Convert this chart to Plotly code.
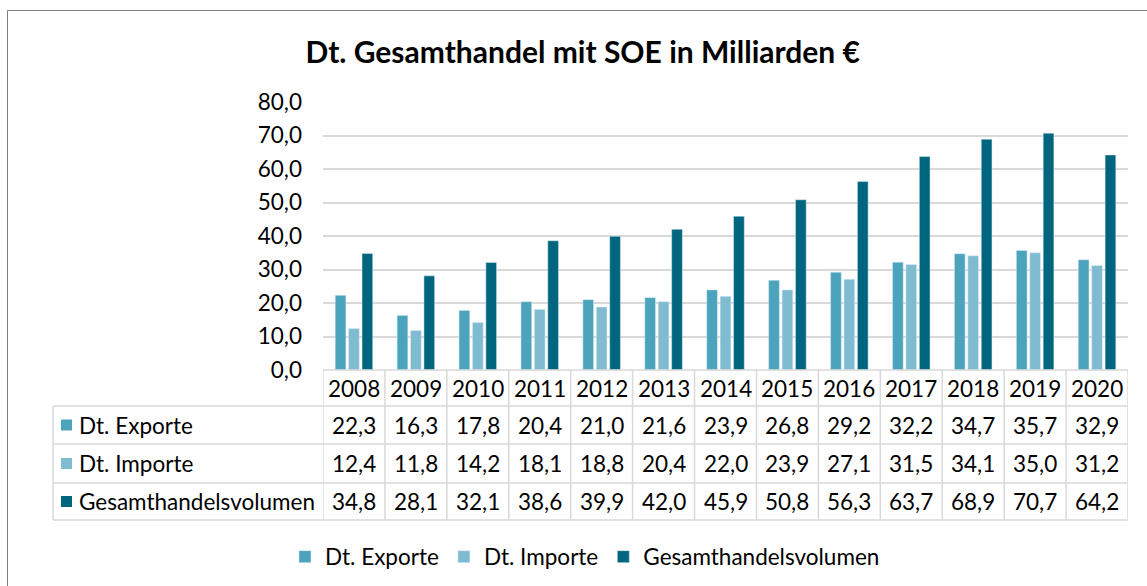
import plotly.graph_objects as go

years = ["2008", "2009", "2010", "2011", "2012", "2013", "2014",
         "2015", "2016", "2017", "2018", "2019", "2020"]
exporte = [22.3, 16.3, 17.8, 20.4, 21.0, 21.6, 23.9, 26.8, 29.2, 32.2, 34.7, 35.7, 32.9]
importe = [12.4, 11.8, 14.2, 18.1, 18.8, 20.4, 22.0, 23.9, 27.1, 31.5, 34.1, 35.0, 31.2]
gesamt = [34.8, 28.1, 32.1, 38.6, 39.9, 42.0, 45.9, 50.8, 56.3, 63.7, 68.9, 70.7, 64.2]

series_names = ["Dt. Exporte", "Dt. Importe", "Gesamthandelsvolumen"]
series_values = [exporte, importe, gesamt]
colors = ["#4BA3BC", "#7FBCD1", "#00667F"]

W, H = 1147, 586
FONT = "Lato"
FS = 22.5
GRID = "#D9D9D9"


def py(px):
    return 1 - px / H


def pxx(px):
    return px / W


x_left, x_right = 323, 1128
y_zero, y_top = 370, 102

fig = go.Figure()
for name, vals, col in zip(series_names, series_values, colors):
    fig.add_trace(go.Bar(x=years, y=vals, name=name, marker_color=col,
                         hoverinfo="x+y+name"))

shapes = []
annotations = []

row_edges = [y_zero, 406, 444, 483, 520]
label_left = 53
n = len(years)

for i in range(n + 1):
    shapes.append(dict(type="line", xref="x", yref="paper",
                       x0=i - 0.5, x1=i - 0.5, y0=py(y_zero), y1=py(row_edges[-1]),
                       line=dict(color=GRID, width=1.5)))
shapes.append(dict(type="line", xref="paper", yref="paper",
                   x0=pxx(label_left), x1=pxx(label_left),
                   y0=py(row_edges[1]), y1=py(row_edges[-1]),
                   line=dict(color=GRID, width=1.5)))
for k, ye in enumerate(row_edges):
    shapes.append(dict(type="line", xref="x", yref="paper",
                       x0=-0.5, x1=n - 0.5, y0=py(ye), y1=py(ye),
                       line=dict(color=GRID, width=1.5)))
    if k >= 1:
        shapes.append(dict(type="line", xref="paper", yref="paper",
                           x0=pxx(label_left), x1=pxx(x_left), y0=py(ye), y1=py(ye),
                           line=dict(color=GRID, width=1.5)))

txtfont = dict(family=FONT, size=FS, color="#000000")

hc = (row_edges[0] + row_edges[1]) / 2
for i, yr in enumerate(years):
    annotations.append(dict(x=i, xref="x", y=py(hc), yref="paper", text=yr,
                            showarrow=False, font=txtfont,
                            xanchor="center", yanchor="middle"))

for r, (name, vals, col) in enumerate(zip(series_names, series_values, colors)):
    rc = (row_edges[r + 1] + row_edges[r + 2]) / 2
    for i, v in enumerate(vals):
        annotations.append(dict(x=i, xref="x", y=py(rc), yref="paper",
                                text=f"{v:.1f}".replace(".", ","),
                                showarrow=False, font=txtfont,
                                xanchor="center", yanchor="middle"))
    shapes.append(dict(type="rect", xref="paper", yref="paper",
                       x0=pxx(61), x1=pxx(72), y0=py(rc - 5.5), y1=py(rc + 5.5),
                       fillcolor=col, line=dict(width=0)))
    annotations.append(dict(x=pxx(77), xref="paper", y=py(rc), yref="paper", text=name,
                            showarrow=False, font=txtfont,
                            xanchor="left", yanchor="middle"))

shapes.append(dict(type="rect", xref="paper", yref="paper",
                   x0=pxx(7.5), x1=1.05, y0=-0.05, y1=py(10.5),
                   line=dict(color="#7F7F7F", width=1), fillcolor="rgba(0,0,0,0)"))

fig.update_layout(
    width=W, height=H,
    margin=dict(l=0, r=0, t=0, b=0, pad=0, autoexpand=False),
    paper_bgcolor="white", plot_bgcolor="white",
    separators=",.",
    barmode="group", bargap=0.35, bargroupgap=0.2,
    font=txtfont,
    title=dict(text="<b>Dt. Gesamthandel mit SOE in Milliarden €</b>",
               x=0.508, xanchor="center", y=py(52), yanchor="middle",
               font=dict(family=FONT, size=30, color="#000000")),
    xaxis=dict(type="category", domain=[pxx(x_left), pxx(x_right)], range=[-0.5, n - 0.5],
               showticklabels=False, showgrid=False, zeroline=False, showline=False,
               ticks="", automargin=False),
    yaxis=dict(domain=[py(y_zero), py(y_top)], range=[0, 80], dtick=10,
               tickformat=".1f", showgrid=True, gridcolor=GRID, gridwidth=1.5,
               zeroline=False, showline=False, ticks="", ticklabelstandoff=20,
               tickfont=txtfont, automargin=False),
    legend=dict(orientation="h", x=0.51, xanchor="center", y=py(557), yanchor="middle",
                font=txtfont, itemwidth=30, traceorder="normal"),
    shapes=shapes,
    annotations=annotations,
)

fig.write_html("out.html")
